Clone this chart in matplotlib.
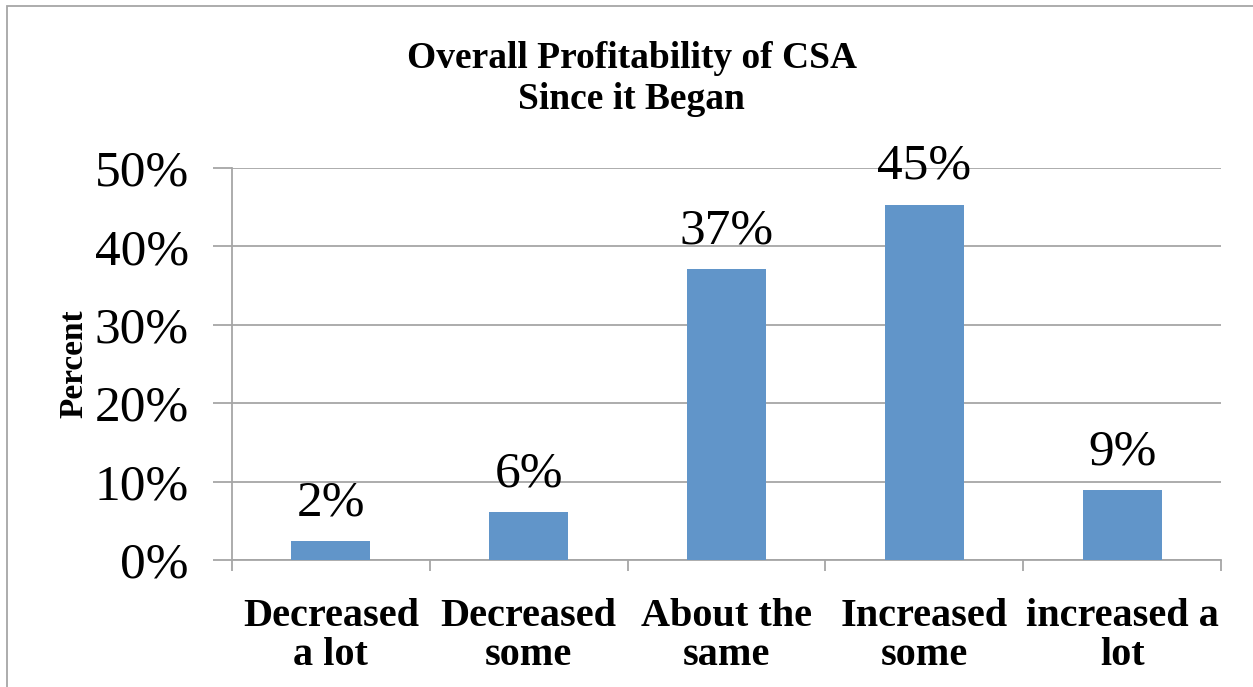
import numpy as np
import matplotlib.pyplot as plt
from matplotlib.patches import Rectangle
from matplotlib.ticker import PercentFormatter

categories = ['Decreased\na lot', 'Decreased\nsome', 'About the\nsame',
              'Increased\nsome', 'increased a\nlot']
values = [2.4, 6.1, 37.1, 45.3, 8.9]
labels = ['2%', '6%', '37%', '45%', '9%']

plt.rcParams['font.family'] = ['Liberation Serif', 'DejaVu Serif']
grey = '#a6a6a6'

fig = plt.figure(figsize=(12.53, 6.87), dpi=100)
ax = fig.add_axes([232 / 1253, 1 - 560 / 687, 989 / 1253, 392 / 687])

x = np.arange(len(categories))
ax.bar(x, values, width=0.4, color='#6195c9', zorder=3)
for xi, v, lab in zip(x, values, labels):
    ax.text(xi, v + 1.9, lab, ha='center', va='bottom', fontsize=37, zorder=4)

ax.set_xlim(-0.5, len(categories) - 0.5)
ax.set_ylim(0, 50)
ax.set_yticks(np.arange(0, 51, 10))
ax.yaxis.set_major_formatter(PercentFormatter(decimals=0))
ax.grid(axis='y', color=grey, linewidth=1.3, zorder=0)

ax.set_xticks(x)
ax.set_xticklabels(categories, fontsize=29, fontweight='bold', linespacing=1.1)
ax.set_xticks(np.arange(-0.5, len(categories)), minor=True)
ax.tick_params(axis='x', which='major', length=0, pad=27)
ax.tick_params(axis='x', which='minor', length=8, color=grey, width=1.3)
ax.tick_params(axis='y', length=14, color=grey, width=1.3, labelsize=37, pad=17)

for s in ['top', 'right']:
    ax.spines[s].set_visible(False)
for s in ['left', 'bottom']:
    ax.spines[s].set_color(grey)
    ax.spines[s].set_linewidth(1.3)

ax.set_ylabel('Percent', fontsize=24, fontweight='bold', labelpad=4)

fig.text(0.504, 1 - 79 / 687, 'Overall Profitability of CSA\nSince it Began',
         ha='center', va='center', fontsize=27, fontweight='bold', linespacing=1.25)

fig.patches.append(Rectangle((7 / 1253, -0.1), 1.2, 1.1 - 6 / 687,
                             transform=fig.transFigure, fill=False,
                             edgecolor=grey, linewidth=1.3))

fig.savefig('out.png')
